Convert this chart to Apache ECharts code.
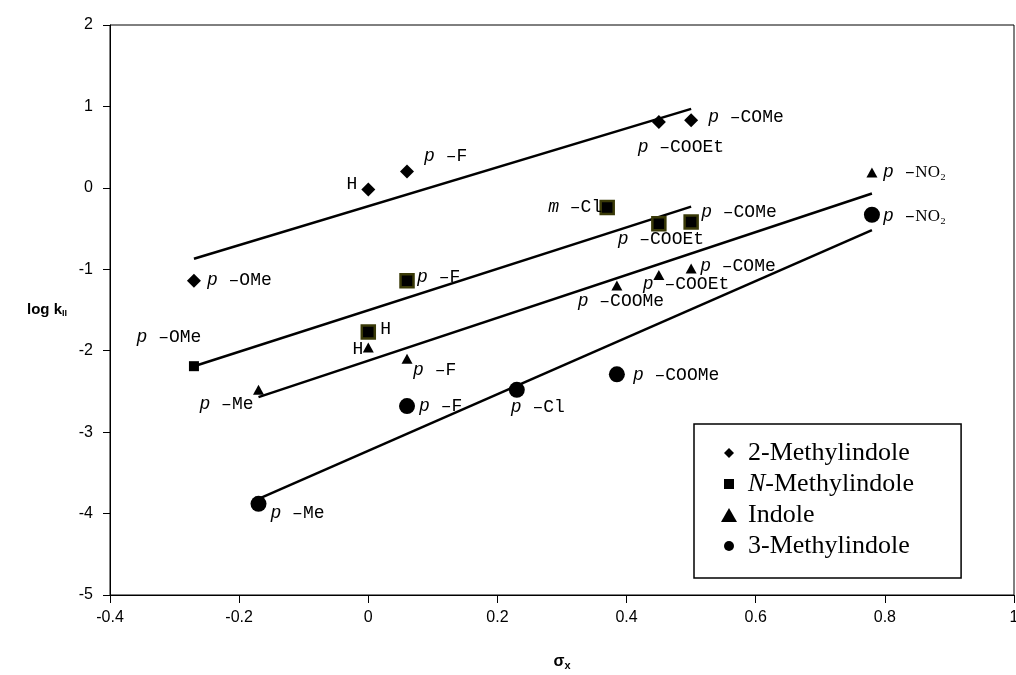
<!DOCTYPE html>
<html><head><meta charset="utf-8">
<script src="https://cdn.jsdelivr.net/npm/echarts@6/dist/echarts.min.js"></script>
<style>html,body{margin:0;padding:0;background:#fff}#c{width:1016px;height:675px}</style>
</head><body><div id="c"></div>
<script>
// ---------------- data ----------------
const seriesNames = ['2-Methylindole', 'N-Methylindole', 'Indole', '3-Methylindole'];

const sigma2Me  = [-0.27, 0.00, 0.06, 0.45, 0.50];
const logk2Me   = [-1.14, -0.02, 0.20, 0.81, 0.83];
const labels2Me = ['p-OMe', 'H', 'p-F', 'p-COOEt', 'p-COMe'];

const sigmaNMe  = [-0.27, 0.00, 0.06, 0.37, 0.45, 0.50];
const logkNMe   = [-2.19, -1.77, -1.14, -0.24, -0.44, -0.42];
const labelsNMe = ['p-OMe', 'H', 'p-F', 'm-Cl', 'p-COOEt', 'p-COMe'];

const sigmaInd  = [-0.17, 0.00, 0.06, 0.385, 0.45, 0.50, 0.78];
const logkInd   = [-2.48, -1.96, -2.10, -1.20, -1.07, -0.99, 0.19];
const labelsInd = ['p-Me', 'H', 'p-F', 'p-COOMe', 'p-COOEt', 'p-COMe', 'p-NO₂'];

const sigma3Me  = [-0.17, 0.06, 0.23, 0.385, 0.78];
const logk3Me   = [-3.88, -2.68, -2.48, -2.29, -0.33];
const labels3Me = ['p-Me', 'p-F', 'p-Cl', 'p-COOMe', 'p-NO₂'];

// regression line end points
const fitSigma2Me = [-0.27, 0.50];  const fitLogk2Me = [-0.87, 0.97];
const fitSigmaNMe = [-0.27, 0.50];  const fitLogkNMe = [-2.19, -0.23];
const fitSigmaInd = [-0.17, 0.78];  const fitLogkInd = [-2.57, -0.07];
const fitSigma3Me = [-0.17, 0.78];  const fitLogk3Me = [-3.82, -0.52];

const xTickValues = [-0.4, -0.2, 0, 0.2, 0.4, 0.6, 0.8, 1];
const yTickValues = [-5, -4, -3, -2, -1, 0, 1, 2];

// ---------------- layout / style (not data) ----------------
// label anchor: [align, dx, dy] relative to the marker centre (pixels)
const labelPlace = {
  '2-Methylindole': [['left', 13, 0], ['right', -11, -5], ['left', 17, -15], ['center', 22, 25], ['left', 17, -3]],
  'N-Methylindole': [['center', -25, -29], ['left', 12, -3], ['left', 10, -3], ['right', -5, 0], ['center', 2, 16], ['left', 10, -10]],
  'Indole': [['right', -5, 14], ['right', -5, 2], ['left', 6, 11], ['center', 4, 16], ['left', -16, 9], ['left', 9, -2], ['left', 11, 0]],
  '3-Methylindole': [['left', 12, 9], ['left', 12, 0], ['center', 21, 17], ['left', 16, 1], ['left', 11, 2]]
};
const outlinedSquare = [false, true, true, true, true, true];

// legend icons drawn inside a common 16x14 box (leading moves fix the box)
const BOX = 'M0 0 M16 14 ';
const legendIcons = [
  'path://' + BOX + 'M8 2 L13 7 L8 12 L3 7 Z',
  'path://' + BOX + 'M3 2 L13 2 L13 12 L3 12 Z',
  'path://' + BOX + 'M8 0 L16 14 L0 14 Z',
  'path://' + BOX + 'M3 7 A5 5 0 1 0 13 7 A5 5 0 1 0 3 7 Z'
];

function fmtLabel(s) {
  const m = /^([pm])-(.*)$/.exec(s);
  if (!m) return '{t|' + s + '}';
  if (m[2].indexOf('NO') === 0) return '{i|' + m[1] + '}{t| –}{s|' + m[2] + '}';
  return '{i|' + m[1] + '}{t| –' + m[2] + '}';
}

const labelRich = {
  i: {fontFamily: 'Liberation Mono', fontStyle: 'italic', fontSize: 18, color: '#000'},
  t: {fontFamily: 'Liberation Mono', fontSize: 18, color: '#000'},
  s: {fontFamily: 'Liberation Serif', fontSize: 17, color: '#000'}
};

function buildPoints(name, xs, ys, labs, extraStyle) {
  return xs.map((x, k) => {
    const p = labelPlace[name][k];
    const item = {
      value: [x, ys[k]],
      label: {
        show: true, position: 'inside', align: p[0], verticalAlign: 'middle',
        offset: [p[1], p[2]], formatter: fmtLabel(labs[k]), rich: labelRich,
        color: '#000', textBorderWidth: 0
      }
    };
    if (extraStyle) { const st = extraStyle(k); if (st) item.itemStyle = st; }
    return item;
  });
}

function fitLine(xs, ys) {
  return {
    type: 'line', data: xs.map((x, k) => [x, ys[k]]), symbol: 'none', silent: true,
    lineStyle: {color: '#000', width: 2.5}, z: 1, animation: false
  };
}

const chart = echarts.init(document.getElementById('c'), null, {renderer: 'canvas'});
chart.setOption({
  animation: false,
  backgroundColor: '#fff',
  grid: {left: 110, right: 2, top: 25, bottom: 80, show: true, borderColor: '#000', borderWidth: 1, outerBoundsMode: 'none'},
  xAxis: {
    type: 'value', min: -0.4, max: 1, interval: 0.2,
    name: '{b|σ}{s|x}', nameLocation: 'middle', nameGap: 57,
    nameTextStyle: {rich: {b: {fontFamily: 'Liberation Sans', fontWeight: 'bold', fontSize: 16, color: '#000'},
                           s: {fontFamily: 'Liberation Sans', fontWeight: 'bold', fontSize: 11, color: '#000', padding: [8, 0, 0, 0]}}},
    axisLine: {onZero: false, lineStyle: {color: '#000', width: 1}},
    axisTick: {show: true, length: 8, lineStyle: {color: '#000'}},
    splitLine: {show: false},
    axisLabel: {color: '#000', fontFamily: 'Liberation Sans', fontSize: 16, margin: 15,
      formatter: v => { const t = xTickValues.find(q => Math.abs(q - v) < 1e-9); return t === undefined ? '' : String(t); }}
  },
  yAxis: {
    type: 'value', min: -5, max: 2, interval: 1,
    name: '{b|log k}{s|II}', nameLocation: 'middle', nameRotate: 0, nameGap: 43,
    nameTextStyle: {align: 'right', rich: {b: {fontFamily: 'Liberation Sans', fontWeight: 'bold', fontSize: 15, color: '#000'},
                           s: {fontFamily: 'Liberation Sans', fontWeight: 'bold', fontSize: 9, color: '#000', padding: [8, 0, 0, 0]}}},
    axisLine: {onZero: false, lineStyle: {color: '#000', width: 1}},
    axisTick: {show: true, length: 7, lineStyle: {color: '#000'}},
    splitLine: {show: false},
    axisLabel: {color: '#000', fontFamily: 'Liberation Sans', fontSize: 16, margin: 17,
      formatter: v => { const t = yTickValues.find(q => Math.abs(q - v) < 1e-9); return t === undefined ? '' : String(t); }}
  },
  legend: {
    left: 694, top: 424, orient: 'vertical',
    data: seriesNames.map((n, k) => ({name: n, icon: legendIcons[k]})),
    itemWidth: 16, itemHeight: 14, itemGap: 5,
    padding: [16, 47, 19, 27],
    borderColor: '#000', borderWidth: 1.5,
    formatter: n => n === 'N-Methylindole' ? '{i|N}{n|-Methylindole}' : '{n|' + n + '}',
    textStyle: {
      color: '#000', fontFamily: 'Liberation Serif', fontSize: 26, padding: [0, 0, 0, 6],
      rich: {
        n: {fontFamily: 'Liberation Serif', fontSize: 26, color: '#000', lineHeight: 26},
        i: {fontFamily: 'Liberation Serif', fontStyle: 'italic', fontSize: 26, color: '#000', lineHeight: 26}
      }
    }
  },
  series: [
    fitLine(fitSigma2Me, fitLogk2Me),
    fitLine(fitSigmaNMe, fitLogkNMe),
    fitLine(fitSigmaInd, fitLogkInd),
    fitLine(fitSigma3Me, fitLogk3Me),
    {
      name: seriesNames[0], type: 'scatter', symbol: 'diamond', symbolSize: 14, z: 3,
      itemStyle: {color: '#000', opacity: 1},
      data: buildPoints(seriesNames[0], sigma2Me, logk2Me, labels2Me)
    },
    {
      name: seriesNames[1], type: 'scatter', symbol: 'rect', symbolSize: 10, z: 3,
      itemStyle: {color: '#000', opacity: 1},
      data: buildPoints(seriesNames[1], sigmaNMe, logkNMe, labelsNMe,
        k => outlinedSquare[k] ? {color: '#000', opacity: 1, borderColor: '#3a3a08', borderWidth: 2.5} : null)
        .map((d, k) => outlinedSquare[k] ? Object.assign(d, {symbolSize: 13}) : d)
    },
    {
      name: seriesNames[2], type: 'scatter', symbol: 'triangle', symbolSize: [11, 10], z: 3,
      itemStyle: {color: '#000', opacity: 1},
      data: buildPoints(seriesNames[2], sigmaInd, logkInd, labelsInd)
    },
    {
      name: seriesNames[3], type: 'scatter', symbol: 'circle', symbolSize: 16, z: 3,
      itemStyle: {color: '#000', opacity: 1},
      data: buildPoints(seriesNames[3], sigma3Me, logk3Me, labels3Me)
    }
  ]
});
</script>
</body></html>
